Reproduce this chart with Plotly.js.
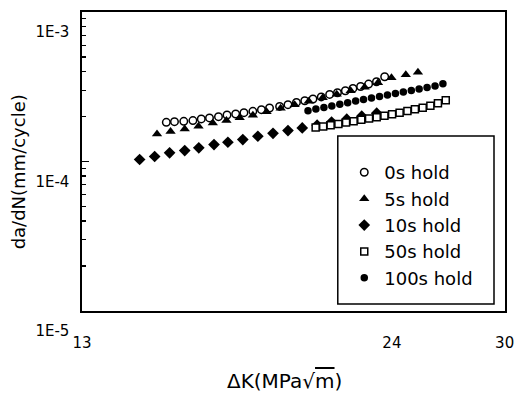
<!DOCTYPE html>
<html><head><meta charset="utf-8">
<script src="https://cdn.plot.ly/plotly-3.0.1.min.js"></script>
<style>html,body{margin:0;padding:0;background:#fff}</style>
</head><body><div id="chart" style="width:514px;height:395px"></div>
<script>
// ΔK (MPa√m) and da/dN (mm/cycle)
const dK_0s   = [15.36,15.61,15.90,16.19,16.46,16.73,17.03,17.32,17.62,17.91,18.23,18.54,18.84,19.22,19.54,19.87,20.20,20.53,20.87,21.22,21.55,21.89,22.22,22.56,22.92,23.28,23.66];
const rate_0s = [1.828e-4,1.848e-4,1.857e-4,1.877e-4,1.926e-4,1.956e-4,1.995e-4,2.048e-4,2.080e-4,2.122e-4,2.165e-4,2.222e-4,2.280e-4,2.337e-4,2.399e-4,2.485e-4,2.551e-4,2.618e-4,2.704e-4,2.810e-4,2.884e-4,2.974e-4,3.081e-4,3.177e-4,3.296e-4,3.415e-4,3.689e-4];

const dK_5s   = [15.08,15.49,15.93,16.37,16.84,17.30,17.76,18.23,18.73,19.26,19.80,20.36,20.93,21.52,22.12,22.74,23.35,23.98,24.67,25.27];
const rate_5s = [1.525e-4,1.585e-4,1.647e-4,1.724e-4,1.806e-4,1.877e-4,1.965e-4,2.042e-4,2.154e-4,2.274e-4,2.399e-4,2.532e-4,2.672e-4,2.818e-4,2.974e-4,3.138e-4,3.363e-4,3.631e-4,3.802e-4,3.951e-4];

const dK_10s   = [14.57,15.01,15.46,15.93,16.38,16.88,17.35,17.87,18.41,18.97,19.54,20.10,20.70,21.30,21.95,22.61,23.29];
const rate_10s = [1.031e-4,1.080e-4,1.143e-4,1.184e-4,1.234e-4,1.298e-4,1.345e-4,1.402e-4,1.475e-4,1.544e-4,1.609e-4,1.678e-4,1.751e-4,1.834e-4,1.920e-4,2.010e-4,2.105e-4];

const dK_50s   = [20.64,20.95,21.26,21.59,21.92,22.25,22.59,22.94,23.29,23.65,24.01,24.37,24.75,25.12,25.51,25.90,26.29,26.70];
const rate_50s = [1.685e-4,1.717e-4,1.751e-4,1.784e-4,1.820e-4,1.859e-4,1.900e-4,1.941e-4,1.980e-4,2.026e-4,2.073e-4,2.122e-4,2.178e-4,2.232e-4,2.291e-4,2.362e-4,2.455e-4,2.570e-4];

const dK_100s   = [20.33,20.65,20.98,21.31,21.65,21.99,22.34,22.69,23.05,23.42,23.79,24.17,24.55,24.94,25.33,25.73,26.14,26.55];
const rate_100s = [2.188e-4,2.242e-4,2.298e-4,2.355e-4,2.414e-4,2.473e-4,2.535e-4,2.594e-4,2.659e-4,2.721e-4,2.784e-4,2.849e-4,2.915e-4,2.983e-4,3.053e-4,3.124e-4,3.201e-4,3.311e-4];

const seriesNames = ['0s hold','5s hold','10s hold','50s hold','100s hold'];
const xTickVals = [13, 24, 30];
const xTickText = ['13', '24', '30'];
const yTickVals = [1e-5, 1e-4, 1e-3];
const yTickText = ['1E-5', '1E-4', '1E-3'];

const FONT = 'DejaVu Sans, Arial, sans-serif';
const BLACK = '#000000';

function tr(x, y, name, symbol, size, fill, lw) {
  return {
    x: x, y: y, name: name, type: 'scatter', mode: 'markers',
    marker: {symbol: symbol, size: size, color: fill, line: {color: BLACK, width: lw}},
    cliponaxis: false
  };
}
const data = [
  tr(dK_0s, rate_0s, seriesNames[0], 'circle', 7.5, '#ffffff', 1.5),
  tr(dK_5s, rate_5s, seriesNames[1], 'triangle-up', 9, BLACK, 0),
  tr(dK_10s, rate_10s, seriesNames[2], 'diamond', 9, BLACK, 0),
  tr(dK_50s, rate_50s, seriesNames[3], 'square', 7, '#ffffff', 1.5),
  tr(dK_100s, rate_100s, seriesNames[4], 'circle', 7.5, BLACK, 0)
];

const minorY = [];
for (let e = -5; e < -3; e++) for (let d = 2; d <= 9; d++) minorY.push(d * Math.pow(10, e));

const layout = {
  width: 514, height: 395,
  margin: {l: 82, r: 9, t: 12, b: 84},
  paper_bgcolor: '#fff', plot_bgcolor: '#fff',
  showlegend: true,
  font: {family: FONT, color: BLACK, size: 15},
  xaxis: {
    type: 'log', range: [Math.log10(13), Math.log10(30.02)],
    tickmode: 'array', tickvals: xTickVals, ticktext: xTickText,
    ticks: '', showgrid: false, zeroline: false,
    showline: true, mirror: true, linecolor: BLACK, linewidth: 1.6,
    tickfont: {family: FONT, size: 15, color: BLACK}, ticklabelstandoff: 17,
    ticklabeloverflow: 'allow'
  },
  yaxis: {
    type: 'log', range: [-5, -3],
    tickmode: 'array', tickvals: yTickVals, ticktext: yTickText,
    ticks: 'inside', ticklen: 7, tickwidth: 1.5, tickcolor: BLACK,
    minor: {tickmode: 'array', tickvals: minorY, ticks: 'inside', ticklen: 4, tickwidth: 1.2, tickcolor: BLACK, showgrid: false},
    showgrid: false, zeroline: false,
    showline: true, mirror: true, linecolor: BLACK, linewidth: 1.6,
    tickfont: {family: FONT, size: 15, color: BLACK}, ticklabelshift: 20, ticklabelstandoff: 8,
    ticklabeloverflow: 'allow'
  },
  legend: {
    x: 0.62, y: 0.525, xanchor: 'left', yanchor: 'top',
    bgcolor: 'rgba(0,0,0,0)', borderwidth: 0,
    font: {family: FONT, size: 18, color: BLACK}
  },
  shapes: [{
    type: 'rect', xref: 'paper', yref: 'paper',
    x0: 0.6047, x1: 0.974, y0: 0.0234, y1: 0.5853,
    line: {color: BLACK, width: 1.5}, fillcolor: 'rgba(0,0,0,0)'
  }],
  annotations: [
    {text: 'ΔK(MPa√<span style="text-decoration:overline">m</span>)', xref: 'paper', yref: 'paper',
     x: 0.479, y: -0.234, xanchor: 'center', yanchor: 'middle', showarrow: false,
     font: {family: FONT, size: 20, color: BLACK}},
    {text: 'da/dN(mm/cycle)', xref: 'paper', yref: 'paper', textangle: -90,
     x: -0.148, y: 0.465, xanchor: 'center', yanchor: 'middle', showarrow: false,
     font: {family: FONT, size: 18, color: BLACK}}
  ]
};

Plotly.newPlot('chart', data, layout, {displayModeBar: false, staticPlot: true});
</script>
</body></html>
